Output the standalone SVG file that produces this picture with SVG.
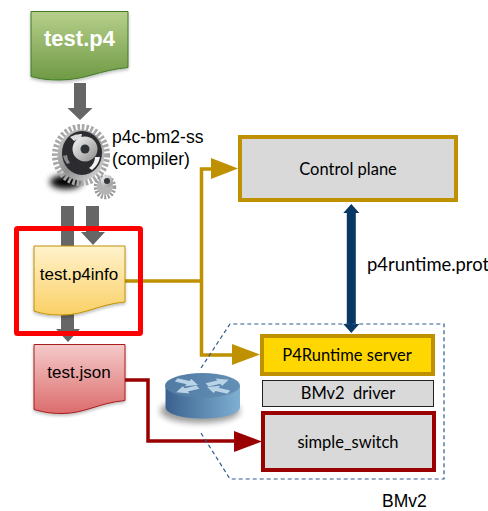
<svg xmlns="http://www.w3.org/2000/svg" width="488" height="511" viewBox="0 0 488 511">
<style>
.ar{font-family:"Liberation Sans",Arial,sans-serif;fill:#000}
.ca{font-family:Lato,"Open Sans",sans-serif;fill:#000;text-anchor:middle}
.gold{fill:none;stroke:#bf9000;stroke-width:3.500;stroke-linejoin:miter}
.red{fill:none;stroke:#990000;stroke-width:3.500}
.gray{fill:#666}
.doc{filter:url(#ds)}
</style>
<defs>
<linearGradient id="g1" x1="0" y1="0" x2="0" y2="1"><stop offset="0" stop-color="#b7cf8b"/><stop offset="1" stop-color="#6f9a45"/></linearGradient>
<linearGradient id="g2" x1="0" y1="0" x2="0" y2="1"><stop offset="0" stop-color="#fff2cc"/><stop offset="1" stop-color="#fad066"/></linearGradient>
<linearGradient id="g3" x1="0" y1="0" x2="0" y2="1"><stop offset="0" stop-color="#f5caca"/><stop offset="1" stop-color="#dc6c6c"/></linearGradient>
<linearGradient id="rb" x1="0" y1="0" x2="1" y2="0"><stop offset="0" stop-color="#3a618e"/><stop offset="1" stop-color="#7fb0d2"/></linearGradient>
<linearGradient id="rt" x1="0" y1="0" x2="1" y2="0"><stop offset="0" stop-color="#527aa3"/><stop offset="1" stop-color="#6390b6"/></linearGradient>
<linearGradient id="met" x1="0" y1="0" x2="1" y2="1"><stop offset="0" stop-color="#fafafa"/><stop offset="1" stop-color="#8a8a8a"/></linearGradient>
<linearGradient id="rim" x1="0" y1="0" x2="1" y2="1"><stop offset="0" stop-color="#d0d0d0"/><stop offset=".5" stop-color="#8f8f8f"/><stop offset="1" stop-color="#e4e4e4"/></linearGradient>
<filter id="ds" x="-10%" y="-10%" width="120%" height="125%"><feDropShadow dx="0" dy="2" stdDeviation="1.500" flood-color="#000" flood-opacity=".25"/></filter>
<filter id="bl" x="-30%" y="-60%" width="160%" height="220%"><feGaussianBlur stdDeviation="3"/></filter>
<path id="ra" d="M0-3.500H13V-8L24 0L13 8V3.500H0z" fill="#b9d3e6"/>
</defs>

<g id="connectors">
<path class="gray" d="M74 83h12v25h6.500l-12.500 12-12.500-12h6.500z"/>
<path class="gray" d="M61 206h13v109h-13z"/>
<path class="gray" d="M86 206h13v26h6l-12 13-12-13h5z"/>
<path class="gray" d="M61 315h13v14h6l-12 13-12-13h5z"/>
<path class="gold" d="M125 281H201.500M213 169H201.500V355H234"/>
<path d="M211 158L238 168.500L211 179z" fill="#bf9000"/>
<path d="M232 344L260 354.500L232 365z" fill="#bf9000"/>
<path class="red" d="M125 380H148V441H236"/>
<path d="M234 431L262 441.500L234 452z" fill="#990000"/>
<path d="M351.300 204L359.300 213H355.800V324H359.300L351.300 333L343.300 324H346.800V213H343.300z" fill="#073763"/>
<path d="M201 368L230 324H444V479H230L201 433" fill="none" stroke="#2f5b8f" stroke-width="1.200" stroke-dasharray="4 3"/>
</g>

<g id="test-p4">
<path class="doc" d="M31 11.500H128V67.500C100 70 85 80 60 80C48 80 40 79 31 76.500z" fill="url(#g1)" stroke="#3f7a23" stroke-width="1"/>
<text x="79.500" y="46" text-anchor="middle" font-size="22" font-weight="700" style="font-family:'Liberation Sans',Arial,sans-serif" fill="#fff">test.p4</text>
</g>

<g id="compiler">
<ellipse cx="66" cy="182" rx="16" ry="7" fill="#000" filter="url(#bl)"/>
<ellipse cx="81" cy="155" rx="26" ry="28" fill="none" stroke="#a8a8a8" stroke-width="6" stroke-dasharray="2.600 1.800"/>
<ellipse cx="81" cy="155" rx="23.500" ry="25.500" fill="url(#rim)"/>
<ellipse cx="82" cy="153" rx="20" ry="22" fill="#2b2b30"/>
<path d="M70 137a21 21 0 0 1 12-3l-1 5a14 14 0 0 0-7 2z" fill="#dcdcdc"/>
<path d="M100 157a21 21 0 0 1-8 13l-3-2a14 14 0 0 0 6-11z" fill="#f0f0f0"/>
<path d="M67 164a21 21 0 0 1-4-8l4-1a14 14 0 0 0 3 8z" fill="#8c8c8c"/>
<circle cx="85" cy="149" r="12.500" fill="url(#met)"/>
<circle cx="85" cy="149" r="4.500" fill="#2f3236"/>
<ellipse cx="105" cy="187" rx="9" ry="10" fill="none" stroke="#9a9a9a" stroke-width="4.500" stroke-dasharray="2 1.400"/>
<ellipse cx="105" cy="186" rx="8" ry="9" fill="#b4b4b4"/>
<circle cx="107" cy="181" r="6" fill="url(#met)"/>
<circle cx="107" cy="181" r="3" fill="#33363a"/>
<text class="ar" x="112" y="143" font-size="17.500">p4c-bm2-ss</text>
<text class="ar" x="112" y="165" font-size="17.500">(compiler)</text>
</g>

<g id="test-json">
<path class="doc" d="M34 344.500H125V400.500C98 403 85 413.500 62 413.500C50 413.500 43 412 34 409.500z" fill="url(#g3)" stroke="#a61c1c" stroke-width="1"/>
<text class="ar" x="79" y="378" text-anchor="middle" font-size="17">test.json</text>
</g>

<g id="test-p4info">
<path class="doc" d="M34 246H125V302C98 304.500 85 315 62 315C50 315 43 314 34 311z" fill="url(#g2)" stroke="#bf9000" stroke-width="1"/>
<text class="ar" x="79" y="280" text-anchor="middle" font-size="17">test.p4info</text>
</g>

<g id="highlight">
<rect x="16.500" y="228.500" width="124" height="105" rx="1" fill="none" stroke="#ff0000" stroke-width="5"/>
</g>

<g id="control-plane">
<rect x="240" y="137" width="216" height="63" fill="#d9d9d9" stroke="#bf9000" stroke-width="4"/>
<text class="ca" x="348" y="175" font-size="16.500">Control plane</text>
</g>

<g id="p4runtime-label">
<text class="ca" x="367" y="271" font-size="18.400" style="text-anchor:start">p4runtime.prot</text>
</g>

<g id="router">
<ellipse cx="200" cy="411" rx="40" ry="12" fill="#000" opacity=".4" filter="url(#bl)"/>
<path d="M165.500 386V407C165.500 414 182 418.500 202.500 418.500S240 414 240 407V386z" fill="url(#rb)"/>
<ellipse cx="202.500" cy="385.500" rx="37.500" ry="12.500" fill="url(#rt)"/>
<g transform="translate(202.500 386) scale(1 .5)">
<use href="#ra" transform="rotate(-155) translate(29 0) rotate(180)"/>
<use href="#ra" transform="rotate(-25) translate(5 0)"/>
<use href="#ra" transform="rotate(155) translate(5 0)"/>
<use href="#ra" transform="rotate(25) translate(29 0) rotate(180)"/>
</g>
</g>

<g id="p4runtime-server">
<rect x="262" y="336" width="171" height="38" fill="#ffd700" stroke="#bf9000" stroke-width="4"/>
<text class="ca" x="347" y="361" font-size="16.500">P4Runtime server</text>
</g>

<g id="bmv2-driver">
<rect x="262.500" y="380.500" width="171" height="26" fill="#d9d9d9" stroke="#222" stroke-width="1"/>
<text class="ca" x="348" y="399" font-size="16.500" xml:space="preserve">BMv2  driver</text>
</g>

<g id="simple-switch">
<rect x="263" y="413" width="171" height="57" fill="#d9d9d9" stroke="#990000" stroke-width="4"/>
<text class="ca" x="348" y="448" font-size="16.500">simple_switch</text>
</g>

<g id="bmv2-label">
<text class="ar" x="382" y="507" font-size="17.500">BMv2</text>
</g>
</svg>
